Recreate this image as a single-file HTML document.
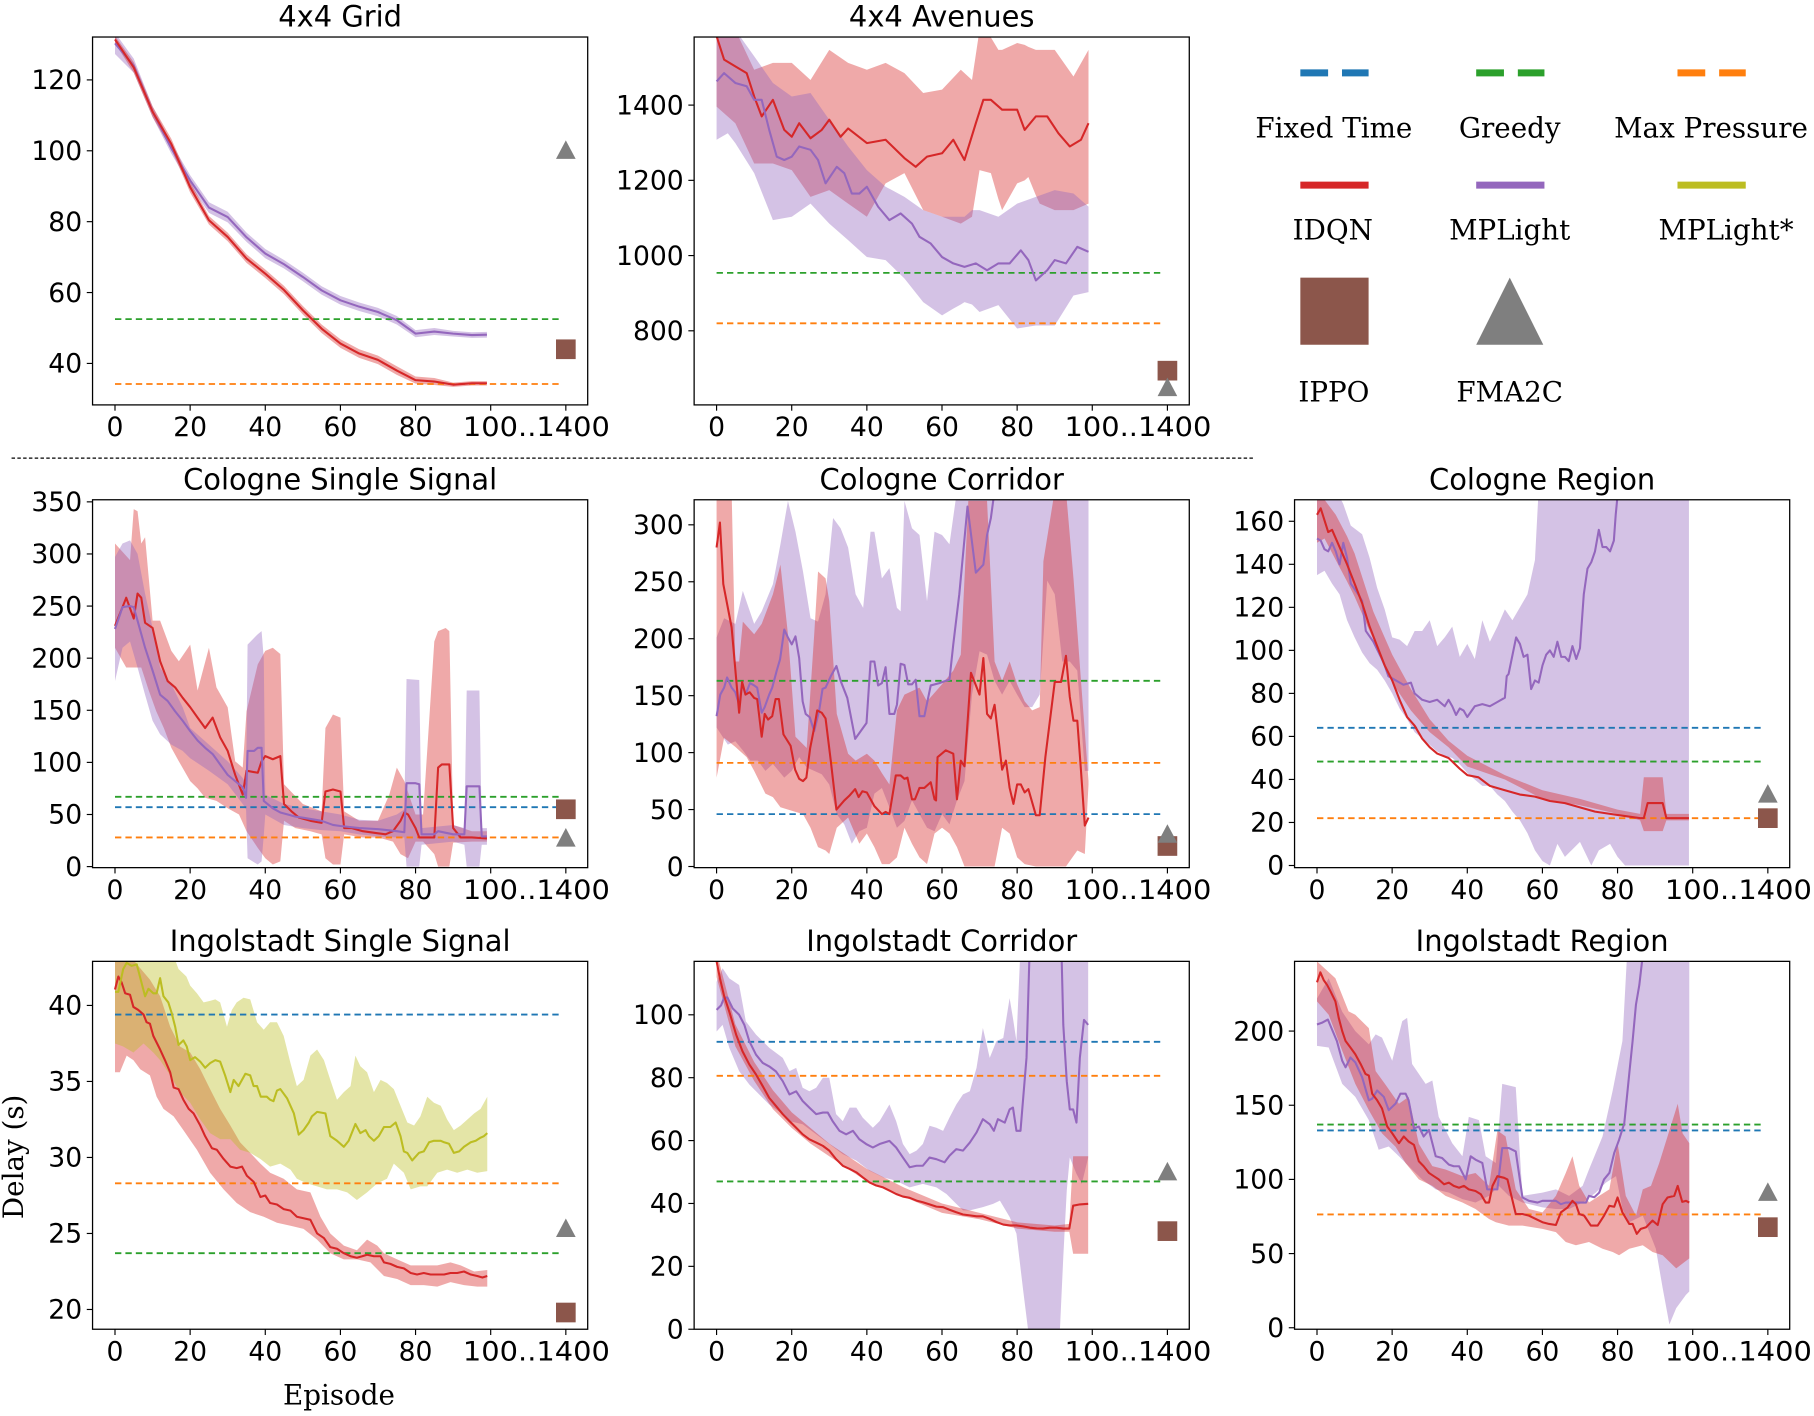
<!DOCTYPE html>
<html><head><meta charset="utf-8"><style>
html,body{margin:0;padding:0;background:#fff;}
svg{display:block;}
text{font-family:"DejaVu Sans","Liberation Sans",sans-serif;fill:#000;}
.serif{font-family:"DejaVu Serif","Liberation Serif",serif;}
</style></head><body>
<svg id="fig" xmlns="http://www.w3.org/2000/svg" width="1814" height="1416" viewBox="0 0 1568 1224" preserveAspectRatio="none">
<line x1="10" y1="396" x2="1083" y2="396" stroke="#000" stroke-width="1" stroke-dasharray="3,2"/>
<g id="legend">
 <g><line x1="1124" y1="63" x2="1183" y2="63" stroke="#1f77b4" stroke-width="6" stroke-dasharray="24,12"/><text class="serif" x="1153" y="119" text-anchor="middle" font-size="24">Fixed Time</text></g>
 <g><line x1="1276" y1="63" x2="1335" y2="63" stroke="#2ca02c" stroke-width="6" stroke-dasharray="24,12"/><text class="serif" x="1305" y="119" text-anchor="middle" font-size="24">Greedy</text></g>
 <g><line x1="1450" y1="63" x2="1509" y2="63" stroke="#ff7f0e" stroke-width="6" stroke-dasharray="24,12"/><text class="serif" x="1479" y="119" text-anchor="middle" font-size="24">Max Pressure</text></g>
 <g><line x1="1124" y1="160" x2="1183" y2="160" stroke="#d62728" stroke-width="6"/><text class="serif" x="1152" y="207" text-anchor="middle" font-size="24">IDQN</text></g>
 <g><line x1="1276" y1="160" x2="1335" y2="160" stroke="#9467bd" stroke-width="6"/><text class="serif" x="1305" y="207" text-anchor="middle" font-size="24">MPLight</text></g>
 <g><line x1="1450" y1="160" x2="1509" y2="160" stroke="#bcbd22" stroke-width="6"/><text class="serif" x="1492" y="207" text-anchor="middle" font-size="24">MPLight*</text></g>
 <g><rect x="1124" y="240" width="59" height="58" fill="#8c564b"/><text class="serif" x="1153" y="347" text-anchor="middle" font-size="24">IPPO</text></g>
 <g><polygon points="1305,240 1334,298 1276,298" fill="#7f7f7f"/><text class="serif" x="1305" y="347" text-anchor="middle" font-size="24">FMA2C</text></g>
</g>
<text class="serif" x="0" y="0" font-size="24" text-anchor="middle" transform="translate(20,1000) rotate(-90)">Delay (s)</text>
<text class="serif" x="293" y="1214" font-size="24" text-anchor="middle">Episode</text>
</svg>
<script>
// ---------- DATA ----------
// 4x4 Grid
const p1_idqn_ep=[0,5,10,15,20,25,30,35,40,45,50,55,60,65,70,75,80,85,90,95,99];
const p1_idqn=[131.4,123.5,111,101.9,89.7,80.4,75.7,69.6,65.3,60.7,55,49.8,45.6,42.8,41,38,35.3,34.9,34,34.4,34.4];
const p1_idqn_sd=[1,1.5,1.5,1.5,1.5,1.2,1.2,1.2,1.2,1.2,1.2,1.2,1.2,1.2,1.2,1.2,1,1,0.6,0.6,0.6];
const p1_mpl=[130.3,124,111,100.7,91.6,84,81.3,75.6,71,68,64.4,60.6,57.8,56,54.5,52.2,48.4,49,48.4,48,48.1];
const p1_mpl_sd=[3,2,1.5,1.5,1.5,1.5,1.5,1.3,1.3,1.2,1.2,1.2,1.2,1.2,1.2,1.2,1,1,0.8,0.8,0.8];
const p1_base={greedy:52.5,maxp:34.2};
const p1_ippo=44, p1_fma2c=100;
// 4x4 Avenues
const p2_idqn_ep=[0,2,5,8,10,12,15,18,20,22,25,28,30,33,35,40,45,50,53,56,60,63,66,69,71,73,76,80,82,85,88,91,94,97,99];
const p2_idqn=[1583,1521,1503,1485,1423,1370,1414,1334,1316,1352,1312,1334,1361,1316,1338,1299,1308,1259,1236,1263,1272,1308,1254,1352,1414,1414,1388,1388,1334,1370,1370,1325,1290,1308,1352];
const p2_idqn_band_ep=[0,5,10,15,20,25,30,35,40,45,50,55,60,65,68,70,73,75,76,80,82,83,85,86,90,95,99];
const p2_idqn_hi=[1600,1600,1494,1512,1512,1467,1547,1512,1494,1512,1485,1432,1441,1494,1467,1600,1580,1547,1547,1565,1560,1555,1547,1547,1547,1476,1547];
const p2_idqn_lo=[1396,1352,1245,1245,1227,1156,1174,1138,1103,1192,1219,1121,1103,1085,1103,1227,1219,1150,1121,1192,1200,1209,1160,1138,1121,1121,1138];
const p2_mpl_ep=[0,2,5,8,10,12,14,16,18,20,22,25,27,29,32,34,36,38,40,43,46,49,52,54,57,60,63,66,69,72,75,78,81,83,85,88,90,93,96,99];
const p2_mpl=[1463,1485,1459,1450,1414,1414,1334,1263,1254,1263,1290,1281,1254,1192,1236,1219,1165,1165,1183,1130,1094,1112,1085,1050,1032,996,979,970,979,961,979,979,1014,988,934,961,988,979,1023,1010];
const p2_mpl_band_ep=[0,3,5,10,15,20,25,30,35,40,45,50,55,60,63,65,66,68,70,75,80,85,90,95,99];
const p2_mpl_hi=[1600,1600,1600,1530,1459,1423,1432,1361,1290,1227,1183,1156,1121,1103,1103,1103,1103,1121,1121,1103,1138,1156,1174,1165,1130];
const p2_mpl_lo=[1308,1325,1299,1219,1094,1103,1138,1085,1041,996,988,939,876,841,859,870,876,870,850,868,806,814,814,894,903];
const p2_base={greedy:954,maxp:820};
const p2_ippo=694, p2_fma2c=648;
// Cologne Single Signal
const p4_idqn_ep=[0,2,3,5,6,7,8,10,12,14,16,18,20,22,24,26,28,30,32,34,35,38,39,40,42,44,45,47,49,52,55,56,58,60,61,63,66,70,72,74,76,77,78,80,81,85,86,87,89,90,92,95,99];
const p4_idqn=[231,249,258,238,262,258,234,229,197,178,172,162,153,143,133,143,124,111,88,69,92,90,101,106,103,106,60,53,47,44,42,72,74,72,37,37,34,32,31,34,44,52,50,37,28,28,95,98,98,37,28,28,27];
const p4_idqn_hi_ep=[0,4,5,6,7,8,10,12,15,17,20,22,25,27,30,32,34,35,38,40,42,44,45,50,55,56,58,60,61,65,70,73,75,77,80,82,85,86,88,89,90,95,99];
const p4_idqn_hi=[310,294,343,341,310,316,236,236,207,197,213,169,210,172,153,101,95,149,194,207,210,204,79,60,53,133,146,143,53,44,44,69,95,82,50,50,216,226,229,226,40,34,34];
const p4_idqn_lo_ep=[0,3,5,7,9,11,13,15,17,20,22,24,27,30,33,35,38,40,42,44,45,48,52,55,56,58,60,61,66,70,74,76,78,80,82,85,86,89,90,95,99];
const p4_idqn_lo=[210,191,191,191,169,149,133,114,101,82,75,66,63,56,50,34,18,8,2,5,44,37,34,31,8,2,2,31,28,28,24,12,8,24,24,12,0,0,23,24,24];
const p4_mpl_ep=[0,2,4,5,6,8,10,12,14,16,18,20,22,24,26,28,30,32,34,34.9,35.3,37,38,39,39.6,42,44,46,48,50,55,58,60,65,70,75,77,77.6,80,81,81.6,85,86,90,93,93.6,97,97.6,99];
const p4_mpl=[228,249,250,249,236,210,188,165,159,149,140,130,121,114,108,98,88,82,76,66,111,111,114,114,63,56,52,50,48,47,44,40,39,37,36,34,33,80,80,79,31,31,34,31,31,77,77,29,29];
const p4_mpl_band_ep=[0,2,4,6,8,10,12,15,18,20,25,30,34,34.9,35.3,38,39,39.6,40,45,50,55,60,65,70,75,77,77.6,81,81.6,90,93,93.6,97,97.6,99];
const p4_mpl_hi=[297,310,313,300,262,229,191,175,153,133,117,101,85,80,213,223,226,200,69,60,56,53,50,45,44,50,55,180,179,37,40,37,169,169,37,37];
const p4_mpl_lo=[178,210,216,191,165,140,127,117,111,104,92,79,60,55,8,2,5,30,50,40,37,35,34,31,29,28,28,0,0,21,24,21,0,0,21,21];
const p4_base={greedy:67,fixed:57,maxp:28};
const p4_ippo=55, p4_fma2c=27;
// Cologne Corridor
const p5_idqn_ep=[0,0.9,1.8,4,6,6.8,7.7,8.8,10,10.8,12,12.8,13.7,14.8,15.7,16.6,17.8,19.7,20.9,22,23,23.9,24.9,26,26.8,28,29,30.4,31.9,34,35.3,36.9,37.8,38.8,40,42,44,45,46,47.7,49,50,50.8,52,52.8,54,55.3,57,58,58.4,58.8,61,63,64,65,66,67.7,70,71,72,73,74,76,77,78,79,80,81,82,83,85,86,87.5,90,91.7,93,94,95,96,97,98,99];
const p5_idqn=[280,302,248,210,135,162,151,153,148,147,114,134,129,132,147,147,116,106,85,77,75,78,104,122,137,135,130,93,50,58,62,68,61,66,65,53,46,48,46,80,80,77,78,59,59,69,69,74,59,58,96,102,99,59,93,88,170,151,183,134,130,142,85,93,69,55,72,72,65,68,45,45,96,162,162,185,149,128,128,84,36,43];
const p5_idqn_hi_ep=[0,4,5,6,7,10,12,15,17,19,21,24,26,27,29,30,32,35,37,40,42,44,46,48,50,52,54,56,60,63,65,67,70,72,74,76,78,80,82,84,86,87,90,93,95,97,99];
const p5_idqn_hi=[330,330,180,180,215,204,213,239,265,204,114,104,204,259,253,233,134,99,93,99,93,82,72,137,151,154,157,145,160,172,186,321,321,321,180,163,180,160,145,137,140,268,330,330,253,163,75];
const p5_idqn_lo_ep=[0,2,5,8,10,13,15,17,20,23,25,27,29,30,32,35,38,40,42,44,46,48,50,52,54,56,58,60,62,64,66,70,74,76,78,80,82,85,88,90,93,96,98,99];
const p5_idqn_lo=[78,113,105,96,84,64,61,52,49,46,34,17,14,11,34,43,20,29,17,2,2,8,34,20,8,2,29,34,29,17,0,0,0,34,29,8,2,0,0,0,0,14,11,72];
const p5_mpl_ep=[0,1,2,2.8,4,5,6,6.8,7.7,8.9,10,10.8,12,12.8,14,14.8,16,16.9,18,19,20,21,22,22.9,23.7,24.8,26,27.3,28.2,29,30.4,31.9,33,34.8,36.9,39.9,41,42,43,44,45,46,47.3,48,49,50,51,52,53,54,55.3,57,59.3,61,62,63,64.6,66.8,69,71,72,73,74,76,99];
const p5_mpl=[132,151,157,166,157,153,142,161,151,161,159,157,135,140,151,157,172,182,208,201,195,202,183,145,134,131,119,137,156,157,167,176,163,148,112,126,180,180,159,161,175,134,134,142,178,177,160,160,164,132,132,159,161,163,164,195,239,316,258,265,291,306,330,340,340];
const p5_mpl_hi_ep=[0,2,5,7,10,12,15,17,19,21,23,25,27,29,31,33,35,37,39,41,42,44,46,48,49,50,52,54,56,58,60,62,64,99];
const p5_mpl_hi=[201,218,213,242,213,224,248,283,321,294,259,218,215,239,306,297,280,239,227,294,294,253,262,227,224,321,297,291,233,294,291,283,330,330];
const p5_mpl_lo_ep=[0,3,5,7,9,11,13,15,18,20,22,24,26,28,30,32,34,36,38,40,42,44,46,48,50,52,54,56,58,60,62,64,66,68,70,72,74,76,78,80,82,84,86,88,90,92,94,96,98,99];
const p5_mpl_lo=[122,107,110,102,93,93,84,90,78,84,96,87,84,81,72,46,37,20,31,34,64,69,52,34,40,58,46,34,31,46,37,58,75,151,189,186,163,151,163,151,140,140,151,251,239,180,180,172,84,84];
const p5_base={greedy:163,maxp:91,fixed:46};
const p5_ippo=18, p5_fma2c=28;
// Cologne Region
const p6_idqn_ep=[0,1,3,4,6,8,10,12,14,16,18,20,22,24,26,28,30,32,35,38,40,43,46,50,54,58,62,66,70,74,78,82,86,87,88,92,93,99];
const p6_idqn=[163,166,155,156,148,140,131,122,111,102,93,86,77,69,65,59,55,52,50,45,42,41,37,35,33,32,30,29,27,25,24,23,22,22,29,29,22,22];
const p6_idqn_band_ep=[0,2,5,8,10,15,20,25,30,35,40,50,60,70,80,86,87,92,93,99];
const p6_idqn_hi=[172,170,163,153,145,118,98,82,68,58,51,42,35,31,26,24,41,41,24,24];
const p6_idqn_lo=[150,152,142,132,125,105,85,72,62,55,46,40,31,28,24,21,16,16,21,21];
const p6_mpl_ep=[0,1,2,3,4,5,6,7,8,9,11,12,13,15,17,18,19,21,23,25,26,28,30,32,34,35,36,37,38,39,40,42,44,46,48,50,50.5,51,53,54,55,56,57,58,59,60,61,62,63,64,65,66,67,68,69,70,71,72,73,74,75,76,77,78,79,79.5,80,81,85,99];
const p6_mpl=[152,151,147,146,150,146,140,150,143,131,126,123,109,104,97,93,88,86,84,85,80,77,76,77,74,77,74,70,73,72,69,74,75,74,76,78,88,89,106,103,97,98,82,86,85,93,98,100,97,104,97,97,95,102,96,101,126,138,141,146,156,148,148,146,151,163,172,190,220,260];
const p6_mpl_hi_ep=[0,5,7,9,12,14,16,18,20,22,24,26,28,30,32,34,36,38,40,42,44,46,48,50,52,54,56,58,59,99];
const p6_mpl_hi=[175,175,168,158,154,143,129,119,106,105,102,109,109,114,102,106,111,97,103,96,114,104,111,119,114,120,126,142,175,175];
const p6_mpl_lo_ep=[0,2,4,6,8,10,12,14,16,18,20,22,24,26,28,30,32,34,36,38,40,42,44,46,48,50,52,54,56,58,60,62,64,66,70,73,75,78,80,82,99];
const p6_mpl_lo=[135,137,131,126,114,106,99,94,91,86,80,73,68,62,59,56,53,51,50,47,43,40,37,37,33,30,25,21,15,7,2,0,10,4,11,0,7,10,4,0,0];
const p6_base={fixed:64,greedy:48.3,maxp:22};
const p6_ippo=22, p6_fma2c=33;
// Ingolstadt Single Signal
const p7_idqn_ep=[0,0.9,1.8,2.7,4,4.9,6.2,7.6,8.4,9.3,10.2,12,13.3,14.7,15.6,16.9,18.2,19.6,20.9,22.7,24,25.8,27.1,28.9,30.7,32.4,33.8,35.1,36.9,37.8,38.7,40,41.3,43.1,44.9,46.7,48.4,50.2,52,53.8,55.6,57.3,59.1,60.9,62.7,64.4,65.8,67.1,68.9,70.7,71.6,73.3,75.1,76.9,78.7,80.4,82.2,84,85.8,87.6,89.3,91.1,92.9,94.7,96.4,97.8,99.1];
const p7_idqn=[41.05,41.9,41.5,40.8,40.7,39.9,39.7,39.4,38.9,38.8,38.0,37.1,36.4,35.6,34.6,34.5,33.8,33.2,32.9,32.1,31.4,30.6,30.5,29.9,29.4,29.3,29.4,28.8,28.4,27.9,27.4,27.5,27.0,26.9,26.6,26.5,26.1,26.0,25.9,25.0,24.7,24.1,24.0,23.7,23.5,23.4,23.5,23.6,23.5,23.5,23.1,23.0,22.8,22.7,22.4,22.3,22.4,22.3,22.3,22.3,22.4,22.4,22.5,22.3,22.2,22.1,22.2];
const p7_idqn_hi_ep=[0,4.9,6.2,9.3,12,14.7,17.3,20,22.7,25.3,28,30.7,33.3,36,38.7,41.3,44.9,48.4,52,54.7,57.3,60.9,64.4,67.1,69.8,71.6,75.1,78.7,82.2,85.8,89.3,92,95.6,99.1];
const p7_idqn_hi=[43,43,42.6,41.7,40.6,38.6,37.3,36.9,35.8,34.5,33.2,32.1,31.0,30.3,29.6,29.0,28.6,27.9,27.7,26.1,25.0,24.2,23.9,24.6,24.2,23.7,23.3,22.9,22.9,22.9,23.1,22.9,22.5,22.6];
const p7_idqn_lo_ep=[0,1.3,3.1,4.9,6.7,9.3,11.1,12.9,15.6,18.2,21.8,25.3,28.9,32.4,36,39.6,43.1,46.7,50.2,53.8,57.3,60.9,64.4,68,71.6,75.1,78.7,82.2,85.8,89.3,92.9,96.4,99.1];
const p7_idqn_lo=[35.6,35.6,36.7,36.4,35.8,35.4,34.0,33.2,32.7,31.8,30.5,29.0,27.9,27.0,26.4,26.1,25.7,25.5,25.3,24.6,23.7,23.3,23.3,23.1,22.2,22.0,21.6,21.6,21.5,21.8,21.6,21.5,21.5];
const p7_mpls_ep=[0,0.9,2.2,3.1,4.4,5.8,8,8.9,10.2,11.1,12,12.9,14.2,15.1,16,16.9,18.2,19.1,20,21.3,22.7,24,25.3,26.7,28,29.3,30.7,31.6,32.9,34.7,36,36.9,37.8,38.8,40.4,41.3,42.2,43.1,44,45.8,47.6,48.9,50.2,51.6,52.4,53.8,56,57.3,59.1,60.9,62.2,64,65.3,66.7,67.6,68.9,70.2,71.6,73.3,74.7,76,76.9,77.8,79.1,80.9,82.2,83.6,84.9,86.7,87.6,88.9,90.2,91.6,92.9,94.7,96,97.3,98.2,99.1];
const p7_mpls=[40.9,40.9,42.4,42.8,42.6,42.7,40.6,41.1,40.8,40.8,41.8,40.6,40.2,39.5,38.6,37.4,37.7,37.3,36.4,36.6,36.3,35.9,36.2,36.4,36.3,35.4,34.3,35.1,34.7,35.5,35.4,34.7,34.7,34.0,34.0,33.8,33.7,34.4,34.5,33.9,32.9,31.5,31.8,32.3,32.7,33.0,32.9,31.4,31.1,30.7,31.1,32.2,31.6,31.8,31.4,31.1,31.4,32.0,32.0,32.3,31.4,30.4,30.3,29.8,30.3,30.4,31.0,31.1,31.1,31.0,30.9,30.3,30.4,30.7,31.0,31.1,31.3,31.4,31.6];
const p7_mpls_hi_ep=[0,16,16.9,19,20,21.8,23.6,25.3,26.7,28,29.8,31.1,32.4,34.2,36,37.8,39.6,41.3,43.1,44.9,46.7,48.4,50.2,52,53.8,55.6,57.3,59.1,60.9,62.7,64,65.3,67.1,68.9,70.7,72.4,74.2,76,77.8,79.6,81.3,83.1,84.9,86.7,88.4,90.2,92,93.8,95.6,97.3,99.1];
const p7_mpls_hi=[43,43,42.4,41.9,41.3,40.8,40.2,40.3,40.4,40.2,38.6,39.7,40.2,40.5,40.4,38.9,38.4,38.9,38.9,38.0,36.2,34.7,35.1,36.7,37.1,36.4,35.1,33.8,34.3,34.7,36.7,36.0,35.6,34.3,35.1,34.9,34.5,33.4,32.3,32.1,32.7,34.0,33.6,33.4,32.5,31.8,32.1,32.5,32.9,33.2,34.0];
const p7_mpls_lo_ep=[0,2.2,4.9,7.6,10.2,12,14.7,17.3,20,22.7,25.3,28,30.7,33.3,36,38.7,41.3,44,46.7,48.4,51.1,53.8,56.4,59.1,61.8,64.4,67.1,69.8,72.4,74.2,76.9,78.7,81.3,83.1,85.8,88.4,91.1,93.8,96.4,99.1];
const p7_mpls_lo=[37.5,37.3,36.9,37.5,36.9,36.4,35.4,34.3,33.6,32.5,31.6,31.2,31.2,30.5,30.3,29.9,29.4,29.6,29.2,28.6,28.3,28.1,27.9,27.9,27.7,27.2,27.7,28.3,28.6,29.6,29.0,27.9,28.1,28.1,29.0,29.2,29.0,29.2,29.0,29.1];
const p7_base={fixed:39.4,maxp:28.3,greedy:23.7};
const p7_ippo=19.8, p7_fma2c=25.3;
// Ingolstadt Corridor
const p8_idqn_ep=[0,0.9,2,3.4,5.2,6.9,8.7,10.5,12.3,14,15.8,17.6,19.4,21.2,22.9,24.7,26.5,28.3,30,31.8,33.6,35.4,37.2,38.9,40.7,42.5,44.3,46,47.8,49.6,51.4,53.2,54.9,56.7,58.5,60.3,62,63.8,65.6,67.4,69.2,70.9,72.7,74.5,76.3,78,79.8,81.6,83.4,85.2,86.9,88.7,90.5,92.3,93.9,94.9,96.7,98.9];
const p8_idqn=[117,111.6,106,101,93.7,88.4,84.2,81,77.3,73.6,71,68.4,66.2,64.1,62,60.4,59.4,58.3,56.8,54.1,52,51,49.9,48.3,46.7,45.7,45.1,44.1,43,42.2,41.8,40.9,40.4,39.7,39,38.8,38,37.2,36.5,36.2,35.9,35.9,35.1,34.1,33.3,33,33,32.7,32.3,32.1,32,32.3,32.3,32,32,39.3,39.7,39.9];
const p8_idqn_band_ep=[0,5,10,15,20,25,30,40,50,60,70,80,90,93.9,94.9,98.9];
const p8_idqn_hi=[120,97,85,76,69,64,59,51,45,40,37,34,33,33.5,55,55];
const p8_idqn_lo=[112,90,79,70,64,59,55,47,42,37,35,32,31,31,24,24];
const p8_mpl_ep=[0,1.2,2,2.9,4.3,6,7.4,8.7,10.5,12.3,14,15.8,17.6,19.4,21.2,22.9,24.7,26.5,28.3,29.6,30.9,32.7,34.5,36.3,38,39.8,41.6,43.4,46,47.8,49.6,51.4,53.2,54.9,56.7,58.5,60.7,62,63.8,65.6,67.4,69.2,70.9,72.7,73.8,74.9,76.7,78,78.9,79.8,80.9,82.5,83.8,91.4,92.3,93.2,94,94.9,95.8,96.7,97.8,98.9];
const p8_mpl=[101.6,103,105.5,105.5,102,100,96.8,91.6,87.3,84.7,83.6,82,78.9,74.7,75.7,72.6,70.5,68.4,68.9,68.9,66.2,63.1,62,63.1,60.4,58.9,57.8,58.9,59.9,57.8,54.6,51.5,52,52,54.6,54.1,53.1,55.2,57.3,56.8,59.4,62.6,66.8,65.2,63.1,66.8,65.7,69.9,70.5,63.1,63.1,86.3,140,140,96.8,78.9,69.9,69.9,65.7,86.3,98.4,96.8];
const p8_mpl_hi_ep=[0,1.6,3.4,6,7.8,10.5,14,17.6,19.4,21.2,22.9,24.7,26.5,28.3,30,31.8,33.6,35.4,37.2,38.9,41.6,43.4,46,47.8,49.6,51.4,53.2,54.9,56.7,58.5,60.3,62,63.8,65.6,67.4,69.2,70.9,72.7,74.5,76.3,78,78.9,79.8,81.2,98.9];
const p8_mpl_hi=[110.5,114.8,111.6,109.5,97.9,93.7,89.5,86.3,82.1,83.1,76.8,75.7,76.8,80,80,68.4,66.2,70.5,70.5,67.3,64.1,66.2,71.5,66.2,58.9,55.7,56.8,58.9,64.7,64.1,63.1,67.3,71.5,74.7,75.7,83.1,95.8,86.3,91.6,92.6,105.3,98.9,91.6,130,130];
const p8_mpl_lo_ep=[0,1.6,3.4,6,8.7,10.5,14,17.6,19.4,22.9,26.5,30,33.6,37.2,40.7,44.3,47.8,51.4,54.9,58.5,61.2,63.8,65.6,67.4,70.9,73.6,75.4,78,79.8,81.6,82.9,91.4,92.3,93.2,94,95.8,97.2,98.9];
const p8_mpl_lo=[94.7,96.8,89.5,82.1,77.8,75.7,71.5,68.4,66.2,65.2,62,58.9,55.7,53.6,50.4,48.3,47.2,45.1,46.2,45.1,43,39.9,37.8,37.8,38.8,39.9,40.9,35.7,30.4,12.4,0,0,23,44.1,54.6,49.4,46.2,54.6];
const p8_base={fixed:91.4,maxp:80.6,greedy:47};
const p8_ippo=31.2, p8_fma2c=49.9;
// Ingolstadt Region
const p9_idqn_ep=[0,0.9,1.8,2.7,3.6,4.9,5.8,6.7,7.6,8.9,10.2,11.6,12.9,13.8,14.7,16,17.3,18.7,20,21.8,23.1,24.4,25.8,27.1,28.4,29.8,31.1,32.4,33.8,35.1,36.4,37.8,39.1,40.4,42.2,43.6,44.9,45.8,46.7,48,49.8,50.7,52.9,54.7,56.4,58.2,60,61.8,63.6,64.9,66.7,68,68.9,69.8,71.1,72.9,74.7,76.4,77.8,79.1,80,81.3,83.1,84,85.1,86.2,87.6,89.3,90.7,92,93.3,95.1,96,97.2,98.2,99.1];
const p9_idqn=[232.9,239.6,234.4,231,226.7,220,208.9,200,193.3,188.9,184.4,177.8,171.1,170,157.8,153.3,147.8,135.6,131.1,124.4,128.9,125.6,123.3,112.2,108.9,104.4,102.2,100,96.7,97.8,95.6,94.4,95.6,93.3,92.2,90,84.4,84.4,95.6,102.2,101.1,100,76.7,76.7,75.6,73.3,71.1,70,69.3,77.8,81.1,85.6,83.3,76.7,75.6,68.9,68.9,75.6,82.2,81.6,87.8,77.8,70,70,63.3,66.7,67.8,72.2,69.3,83.3,87.8,88.9,95.6,84.9,85.6,84.4];
const p9_idqn_hi_ep=[0,4.9,8.4,10.2,13.8,15.6,18.2,21.8,24.4,27.1,30.7,34.2,38.7,42.2,45.8,48,50.2,52.9,56.4,60,63.6,66.2,68,69.8,72.4,75.1,77.8,80,82.2,84.9,86.7,88.9,91.1,93.8,96,97.3,99.1];
const p9_idqn_hi=[247,235.6,213.3,211,202,173,164,151,155.6,124,109,106.7,102.2,104.4,95.6,133,129,93.3,80,77.8,88.9,104.4,115.6,95.6,84.4,88.9,93.3,124.4,88.9,75.6,93.3,95.6,111,133,151,131,124.4];
const p9_idqn_lo_ep=[0,3.1,6.7,10.2,13.8,17.3,20.9,23.6,27.1,30.7,34.2,38.7,42.2,45.8,47.6,51.1,54.7,60,63.6,66.2,68.9,72.4,76,78.7,80.4,83.1,86.7,89.3,92,95.6,99.1];
const p9_idqn_lo=[220,211,186.7,164.4,146.7,131,122,111,100,95.6,88.9,84.4,80,73.3,71.1,68.9,68.9,66.7,64.4,57.8,55.6,57.8,53.3,51.1,48.9,53.3,55.6,51.1,48.9,40,46.7];
const p9_mpl_ep=[0,1.3,2.9,4,5.3,6.7,7.6,8.9,10.2,12,13.8,14.7,16,17.8,19.1,20.9,22.2,23.6,24.4,25.8,27.1,28.4,29.8,31.6,33.3,35.1,36.4,37.8,39.6,40.9,42.2,44,45.3,46.7,48,49.3,51.1,52.9,54.7,56.4,58.7,60,61.8,63.6,64.9,66.2,68,70.2,71.6,72.4,73.8,75.1,76.4,77.8,79.1,80.4,81.8,83.1,84,84.9,85.8,87.1,99.1];
const p9_mpl=[204.4,205.6,207.8,201.1,193.3,180,175.6,182.2,178.9,168.9,153.3,154.4,160,155.6,146.7,151.1,157.8,157.8,153.3,134.4,135.6,128.9,133.3,115.6,114.4,110,108.9,108.9,100,115.6,113.3,111.1,93.3,93.3,93.3,121.1,121.1,118.9,87.8,85.6,84.4,85.6,85.6,85.6,83.3,84.4,84.4,84.4,84.4,88.9,88,91.1,100,104.4,117.8,126.7,137.8,171.1,193.3,217.8,231,260,300];
const p9_mpl_hi_ep=[0,3.1,6.7,10.2,13.8,15.6,17.3,20,22.7,24,25.3,28.9,30.7,32.4,34.2,36,38.7,40.4,43.1,44.9,47.6,49.3,52.9,54.7,60,63.6,67.1,70.7,72.4,76,78.7,81.3,82.7,99.1];
const p9_mpl_hi=[222,235.6,213,200,191,197.8,195.6,180,206.7,208.9,177.8,164.4,166.7,142.2,133.3,124.4,115.6,142.2,140,115.6,111.1,164.4,162.2,88.9,91.1,93.3,88.9,95.6,106.7,128.9,160,193.3,260,260];
const p9_mpl_lo_ep=[0,3.1,6.7,10.2,13.8,16.4,19.1,21.8,25.3,28,31.6,35.1,38.7,42.2,45.8,48.4,51.1,54.7,60,63.6,67.1,70.7,74.2,76.9,79.6,81.3,83.1,86.7,90.2,92,93.8,95.6,98.2,99.1];
const p9_mpl_lo=[190,188.9,164.4,155.6,140,120,122.2,115.6,106.7,100,93.3,91.1,86.7,84.4,88.9,95.6,88.9,84.4,81.1,80,80,84.4,91.1,97.8,102.2,80,71.1,75.6,53.3,26.7,2.2,13.3,22.2,24.4];
const p9_base={greedy:137,fixed:133,maxp:76.4};
const p9_ippo=67.8, p9_fma2c=91;

// ---------- RENDER ----------
const NS='http://www.w3.org/2000/svg';
const svg=document.getElementById('fig');
const COLS=[80,600,1119], ROWS=[32,432,831], W=428, H=318;
const C={red:'#d62728',purple:'#9467bd',olive:'#bcbd22',blue:'#1f77b4',green:'#2ca02c',orange:'#ff7f0e',brown:'#8c564b',gray:'#7f7f7f'};
function mk(tag,attrs,parent){const e=document.createElementNS(NS,tag);for(const k in attrs)e.setAttribute(k,attrs[k]);(parent||svg).appendChild(e);return e;}
function makePanel(key,col,row,title,ymin,ymax,yticks,series,base,ippo,fma2c){
  const L=COLS[col],T=ROWS[row];
  const g=mk('g',{});
  
  
  const xs=ep=>L+19.4+ep*3.2475;
  const ys=v=>T+H-(v-ymin)/(ymax-ymin)*H;
  const cid='clip-'+key;
  const cp=mk('clipPath',{id:cid},g);mk('rect',{x:L,y:T,width:W,height:H},cp);
  const plot=mk('g',{'clip-path':'url(#'+cid+')'},g);
  series.forEach(s=>{
    const pts=[];
    s.hiEp.forEach((e,i)=>pts.push(xs(e).toFixed(1)+','+ys(s.hi[i]).toFixed(1)));
    for(let i=s.loEp.length-1;i>=0;i--)pts.push(xs(s.loEp[i]).toFixed(1)+','+ys(s.lo[i]).toFixed(1));
    const p=mk('polygon',{points:pts.join(' '),fill:C[s.color],'fill-opacity':'0.4'},plot);
    
    
  });
  const bcol={fixed:C.blue,greedy:C.green,maxp:C.orange};
  for(const b in base){
    const l=mk('line',{x1:xs(0),x2:xs(119),y1:ys(base[b]),y2:ys(base[b]),stroke:bcol[b],'stroke-width':1.6,'stroke-dasharray':'5.5,3.5'},plot);
    
    
  }
  series.forEach(s=>{
    const d=s.ep.map((e,i)=>(i?'L':'M')+xs(e).toFixed(1)+','+ys(s.mean[i]).toFixed(1)).join('');
    const p=mk('path',{d:d,fill:'none',stroke:C[s.color],'stroke-width':1.8,'stroke-linejoin':'round'},plot);
    
    
  });
  const sq=mk('rect',{x:xs(120)-8.5,y:ys(ippo)-8.5,width:17,height:17,fill:C.brown},plot);
  
  
  const tx=xs(120),ty=ys(fma2c);
  const tr=mk('polygon',{points:`${tx},${ty-9} ${tx+8.5},${ty+7} ${tx-8.5},${ty+7}`,fill:C.gray},plot);
  
  
  mk('rect',{x:L,y:T,width:W,height:H,fill:'none',stroke:'#000','stroke-width':1.1},g);
  [0,20,40,60,80,100,120].forEach(t=>{mk('line',{x1:xs(t),x2:xs(t),y1:T+H,y2:T+H+5,stroke:'#000','stroke-width':1},g);});
  [0,20,40,60,80].forEach(t=>{const e=mk('text',{x:xs(t),y:T+H+27,'text-anchor':'middle','font-size':23},g);e.textContent=String(t);
    
    });
  const lab=mk('text',{x:xs(100)-24,y:T+H+27,'font-size':23,textLength:127,lengthAdjust:'spacingAndGlyphs'},g);lab.textContent='100..1400';
  
  
  yticks.forEach(t=>{const y=ys(t);mk('line',{x1:L-5,x2:L,y1:y,y2:y,stroke:'#000','stroke-width':1},g);
    const e=mk('text',{x:L-9,y:y+8,'text-anchor':'end','font-size':23},g);e.textContent=String(t);
    
    });
  const tt=mk('text',{x:L+W/2,y:T-9,'text-anchor':'middle','font-size':25},g);tt.textContent=title;
  
  
}
function S(name,color,ep,mean,hiEp,hi,loEp,lo){return {name,color,ep,mean,hiEp,hi,loEp,lo};}
function sd(m,s,sign){return m.map((v,i)=>v+sign*s[i]);}
makePanel('grid4x4',0,0,'4x4 Grid',28.3,132.1,[40,60,80,100,120],[
  S('mplight','purple',p1_idqn_ep,p1_mpl,p1_idqn_ep,sd(p1_mpl,p1_mpl_sd,1),p1_idqn_ep,sd(p1_mpl,p1_mpl_sd,-1)),
  S('idqn','red',p1_idqn_ep,p1_idqn,p1_idqn_ep,sd(p1_idqn,p1_idqn_sd,1),p1_idqn_ep,sd(p1_idqn,p1_idqn_sd,-1))],p1_base,p1_ippo,p1_fma2c);
makePanel('avenues4x4',1,0,'4x4 Avenues',603,1581,[800,1000,1200,1400],[
  S('idqn','red',p2_idqn_ep,p2_idqn,p2_idqn_band_ep,p2_idqn_hi,p2_idqn_band_ep,p2_idqn_lo),
  S('mplight','purple',p2_mpl_ep,p2_mpl,p2_mpl_band_ep,p2_mpl_hi,p2_mpl_band_ep,p2_mpl_lo)],p2_base,p2_ippo,p2_fma2c);
makePanel('cologne-single',0,1,'Cologne Single Signal',-1,352,[0,50,100,150,200,250,300,350],[
  S('idqn','red',p4_idqn_ep,p4_idqn,p4_idqn_hi_ep,p4_idqn_hi,p4_idqn_lo_ep,p4_idqn_lo),
  S('mplight','purple',p4_mpl_ep,p4_mpl,p4_mpl_band_ep,p4_mpl_hi,p4_mpl_band_ep,p4_mpl_lo)],p4_base,p4_ippo,p4_fma2c);
makePanel('cologne-corridor',1,1,'Cologne Corridor',-1,322,[0,50,100,150,200,250,300],[
  S('mplight','purple',p5_mpl_ep,p5_mpl,p5_mpl_hi_ep,p5_mpl_hi,p5_mpl_lo_ep,p5_mpl_lo),
  S('idqn','red',p5_idqn_ep,p5_idqn,p5_idqn_hi_ep,p5_idqn_hi,p5_idqn_lo_ep,p5_idqn_lo)],p5_base,p5_ippo,p5_fma2c);
makePanel('cologne-region',2,1,'Cologne Region',-1,170,[0,20,40,60,80,100,120,140,160],[
  S('mplight','purple',p6_mpl_ep,p6_mpl,p6_mpl_hi_ep,p6_mpl_hi,p6_mpl_lo_ep,p6_mpl_lo),
  S('idqn','red',p6_idqn_ep,p6_idqn,p6_idqn_band_ep,p6_idqn_hi,p6_idqn_band_ep,p6_idqn_lo)],p6_base,p6_ippo,p6_fma2c);
makePanel('ingolstadt-single',0,2,'Ingolstadt Single Signal',18.7,42.9,[20,25,30,35,40],[
  S('idqn','red',p7_idqn_ep,p7_idqn,p7_idqn_hi_ep,p7_idqn_hi,p7_idqn_lo_ep,p7_idqn_lo),
  S('mplight-star','olive',p7_mpls_ep,p7_mpls,p7_mpls_hi_ep,p7_mpls_hi,p7_mpls_lo_ep,p7_mpls_lo)],p7_base,p7_ippo,p7_fma2c);
makePanel('ingolstadt-corridor',1,2,'Ingolstadt Corridor',0,117,[0,20,40,60,80,100],[
  S('mplight','purple',p8_mpl_ep,p8_mpl,p8_mpl_hi_ep,p8_mpl_hi,p8_mpl_lo_ep,p8_mpl_lo),
  S('idqn','red',p8_idqn_ep,p8_idqn,p8_idqn_band_ep,p8_idqn_hi,p8_idqn_band_ep,p8_idqn_lo)],p8_base,p8_ippo,p8_fma2c);
makePanel('ingolstadt-region',2,2,'Ingolstadt Region',-1,247,[0,50,100,150,200],[
  S('mplight','purple',p9_mpl_ep,p9_mpl,p9_mpl_hi_ep,p9_mpl_hi,p9_mpl_lo_ep,p9_mpl_lo),
  S('idqn','red',p9_idqn_ep,p9_idqn,p9_idqn_hi_ep,p9_idqn_hi,p9_idqn_lo_ep,p9_idqn_lo)],p9_base,p9_ippo,p9_fma2c);
</script>
</body></html>
